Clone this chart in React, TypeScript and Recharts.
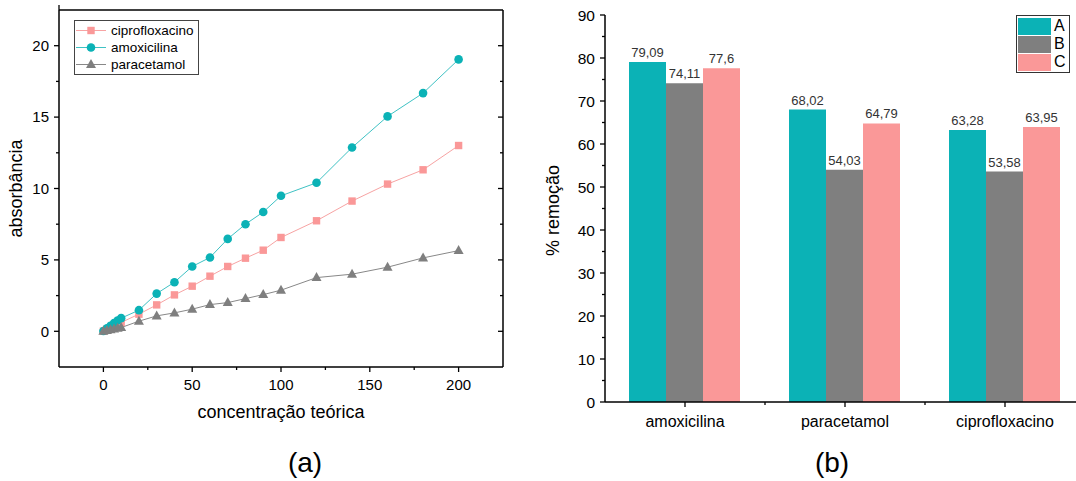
import React from 'react';
import { LineChart, Line, BarChart, Bar, XAxis, YAxis, Legend, Label, LabelList } from 'recharts';

// (a) absorbance vs theoretical concentration
const CONC = [0, 2, 4, 6, 8, 10, 20, 30, 40, 50, 60, 70, 80, 90, 100, 120, 140, 160, 180, 200];
const CIPRO_ABS = [0.01, 0.13, 0.25, 0.38, 0.49, 0.62, 1.2, 1.85, 2.55, 3.16, 3.86, 4.54, 5.12, 5.68, 6.57, 7.74, 9.12, 10.31, 11.31, 13.01];
const AMOX_ABS = [0.02, 0.21, 0.38, 0.57, 0.76, 0.92, 1.48, 2.64, 3.44, 4.54, 5.17, 6.47, 7.5, 8.35, 9.49, 10.4, 12.87, 15.05, 16.68, 19.04];
const PARA_ABS = [0, 0.06, 0.1, 0.16, 0.21, 0.26, 0.71, 1.08, 1.29, 1.55, 1.87, 2.01, 2.29, 2.57, 2.88, 3.76, 4.0, 4.49, 5.14, 5.65];
const CONC_TICKS = [0, 25, 50, 75, 100, 125, 150, 175, 200];
const ABS_TICKS = [0, 2.5, 5, 7.5, 10, 12.5, 15, 17.5, 20];

// (b) % removal per drug
const DRUGS = ['amoxicilina', 'paracetamol', 'ciprofloxacino'];
const REMOVAL_A = [79.09, 68.02, 63.28];
const REMOVAL_B = [74.11, 54.03, 53.58];
const REMOVAL_C = [77.6, 64.79, 63.95];
const REMOVAL_TICKS = [0, 5, 10, 15, 20, 25, 30, 35, 40, 45, 50, 55, 60, 65, 70, 75, 80, 85, 90];

const FONT = '"Liberation Sans", Arial, sans-serif';
const TEAL = '#0bb2b6';
const GRAY = '#7f7f7f';
const PINK = '#fa9898';

const lineData = CONC.map((c, i) => ({ conc: c, cipro: CIPRO_ABS[i], amox: AMOX_ABS[i], para: PARA_ABS[i] }));
const barData = DRUGS.map((d, i) => ({ name: d, A: REMOVAL_A[i], B: REMOVAL_B[i], C: REMOVAL_C[i] }));

const LINE_SERIES = [
  { key: 'cipro', name: 'ciprofloxacino', shape: 'square', marker: PINK, line: '#f7a3a3' },
  { key: 'amox', name: 'amoxicilina', shape: 'circle', marker: TEAL, line: '#3fc2c4' },
  { key: 'para', name: 'paracetamol', shape: 'triangle', marker: GRAY, line: '#888888' },
];
const BAR_SERIES = [
  { key: 'A', color: TEAL },
  { key: 'B', color: GRAY },
  { key: 'C', color: PINK },
];

const Marker = ({ shape, cx, cy, color }: any) => {
  if (cx == null || cy == null) return null;
  if (shape === 'square') return <rect x={cx - 3.7} y={cy - 3.7} width={7.4} height={7.4} fill={color} />;
  if (shape === 'triangle')
    return <polygon points={`${cx},${cy - 5.5} ${cx - 5},${cy + 3.5} ${cx + 5},${cy + 3.5}`} fill={color} />;
  return <circle cx={cx} cy={cy} r={4.3} fill={color} />;
};

const isMajor = (v: number, step: number) => Math.abs(v / step - Math.round(v / step)) < 1e-6;

// Origin style ticks: major/minor lengths, optional inward direction
const FrameTick = (props: any) => {
  const { x, y, payload, side, inward, showLabel, step, fontSize, gap } = props;
  const v = payload.value;
  const major = isMajor(v, step);
  const len = major ? 5 : 3;
  const d = inward ? 1 : -1;
  const ls = { stroke: '#000', strokeWidth: 1.3 };
  let line = null;
  let text = null;
  if (side === 'left') {
    line = <line x1={x} y1={y} x2={x + d * len} y2={y} {...ls} />;
    if (showLabel && major)
      text = <text x={x - gap} y={y} dy="0.355em" textAnchor="end" fontSize={fontSize} fontFamily={FONT} fill="#000">{v}</text>;
  } else if (side === 'right') {
    line = <line x1={x} y1={y} x2={x - d * len} y2={y} {...ls} />;
  } else if (side === 'top') {
    line = <line x1={x} y1={y} x2={x} y2={y - d * len} {...ls} />;
  } else {
    line = <line x1={x} y1={y} x2={x} y2={y - d * len} {...ls} />;
    if (showLabel && major)
      text = <text x={x} y={y + gap} dy="0.71em" textAnchor="middle" fontSize={fontSize} fontFamily={FONT} fill="#000">{v}</text>;
  }
  return <g>{line}{text}</g>;
};

const BAR_PLOT_W = 480;

const CategoryTick = (props: any) => {
  const { x, y, payload } = props;
  const half = BAR_PLOT_W / DRUGS.length / 2;
  return (
    <g>
      <line x1={x} y1={y} x2={x} y2={y + 5} stroke="#000" strokeWidth={1.3} />
      <line x1={x + half} y1={y} x2={x + half} y2={y + 3} stroke="#000" strokeWidth={1.3} />
      <text x={x} y={y + 14} dy="0.71em" textAnchor="middle" fontSize={16} fontFamily={FONT} fill="#000">{payload.value}</text>
    </g>
  );
};

const LineLegend = () => (
  <div style={{ border: '1px solid #444', background: '#fff', padding: '1px 4px 1px 1px', fontFamily: FONT, fontSize: 13.5, lineHeight: '17px', color: '#000' }}>
    {LINE_SERIES.map((s) => (
      <div key={s.key} style={{ display: 'flex', alignItems: 'center', height: 17 }}>
        <svg width={30} height={17} style={{ display: 'block' }}>
          <line x1={0} x2={30} y1={8.5} y2={8.5} stroke={s.line} strokeWidth={1} />
          <Marker shape={s.shape} cx={15} cy={8.5} color={s.marker} />
        </svg>
        <span style={{ marginLeft: 5 }}>{s.name}</span>
      </div>
    ))}
  </div>
);

const BarLegend = () => (
  <div style={{ border: '1px solid #333', background: '#fff', padding: '1px 3px 1px 1px', fontFamily: FONT, fontSize: 16, color: '#000' }}>
    {BAR_SERIES.map((s) => (
      <div key={s.key} style={{ display: 'flex', alignItems: 'center', height: 18 }}>
        <div style={{ width: 33, height: 17, background: s.color }} />
        <span style={{ marginLeft: 3, lineHeight: '18px' }}>{s.key}</span>
      </div>
    ))}
  </div>
);

const axisLine = { stroke: '#000', strokeWidth: 1.5 };

const App = () => (
  <div style={{ position: 'absolute', left: 0, top: 0, width: 1076, height: 481, overflow: 'hidden', background: '#fff' }}>
    <div style={{ position: 'absolute', left: 0, top: 0 }}>
      <LineChart width={520} height={440} data={lineData} margin={{ top: 9, right: 16, left: 14, bottom: 43 }}>
        <XAxis
          dataKey="conc"
          type="number"
          domain={[-25, 225]}
          ticks={CONC_TICKS}
          allowDataOverflow
          interval={0}
          height={30}
          tickSize={0}
          tickMargin={0}
          tickLine={false}
          axisLine={axisLine}
          tick={(p: any) => <FrameTick {...p} side="bottom" inward={false} showLabel step={50} fontSize={15} gap={12} />}
        >
          <Label
            content={(p: any) => {
              const vb = p.viewBox;
              return (
                <text x={vb.x + vb.width / 2} y={vb.y + 51} textAnchor="middle" fontSize={18} fontFamily={FONT} fill="#000">
                  concentração teórica
                </text>
              );
            }}
          />
        </XAxis>
        <XAxis
          xAxisId="top"
          orientation="top"
          type="number"
          domain={[-25, 225]}
          ticks={CONC_TICKS}
          allowDataOverflow
          interval={0}
          height={1}
          tickSize={0}
          tickMargin={0}
          tickLine={false}
          axisLine={axisLine}
          tick={(p: any) => <FrameTick {...p} side="top" inward showLabel={false} step={50} fontSize={15} gap={0} />}
        />
        <YAxis
          type="number"
          domain={[-2.5, 22.5]}
          ticks={ABS_TICKS}
          allowDataOverflow
          interval={0}
          width={45}
          tickSize={0}
          tickMargin={0}
          tickLine={false}
          axisLine={axisLine}
          tick={(p: any) => <FrameTick {...p} side="left" inward={false} showLabel step={5} fontSize={15} gap={10} />}
        >
          <Label
            content={(p: any) => {
              const vb = p.viewBox;
              const cx = vb.x + 2;
              const cy = vb.y + vb.height / 2;
              return (
                <text x={cx} y={cy} transform={`rotate(-90, ${cx}, ${cy})`} textAnchor="middle" dy="0.35em" fontSize={18} fontFamily={FONT} fill="#000">
                  absorbância
                </text>
              );
            }}
          />
        </YAxis>
        <YAxis
          yAxisId="right"
          orientation="right"
          type="number"
          domain={[-2.5, 22.5]}
          ticks={ABS_TICKS}
          allowDataOverflow
          interval={0}
          width={1}
          tickSize={0}
          tickMargin={0}
          tickLine={false}
          axisLine={axisLine}
          tick={(p: any) => <FrameTick {...p} side="right" inward showLabel={false} step={5} fontSize={15} gap={0} />}
        />
        {LINE_SERIES.map((s) => (
          <Line
            key={s.key}
            type="linear"
            dataKey={s.key}
            name={s.name}
            stroke={s.line}
            strokeWidth={1}
            isAnimationActive={false}
            dot={(p: any) => <Marker key={`${s.key}-${p.index}`} shape={s.shape} cx={p.cx} cy={p.cy} color={s.marker} />}
            activeDot={false}
          />
        ))}
        <Legend layout="vertical" align="center" verticalAlign="middle" wrapperStyle={{ left: 74, top: 20 }} content={() => <LineLegend />} />
      </LineChart>
    </div>

    <div style={{ position: 'absolute', left: 530, top: 0 }}>
      <BarChart width={560} height={481} data={barData} margin={{ top: 15, right: 5, left: 15, bottom: 49 }} barCategoryGap="15%" barGap={0}>
        <XAxis dataKey="name" interval={0} height={30} tickSize={0} tickMargin={0} tickLine={false} axisLine={axisLine} tick={(p: any) => <CategoryTick {...p} />} />
        <YAxis
          type="number"
          domain={[0, 90]}
          ticks={REMOVAL_TICKS}
          allowDataOverflow
          interval={0}
          width={60}
          tickSize={0}
          tickMargin={0}
          tickLine={false}
          axisLine={axisLine}
          tick={(p: any) => <FrameTick {...p} side="left" inward={false} showLabel step={10} fontSize={15.5} gap={10} />}
        >
          <Label
            content={(p: any) => {
              const vb = p.viewBox;
              const cx = vb.x + vb.width - 52;
              const cy = vb.y + vb.height / 2 + 2;
              return (
                <text x={cx} y={cy} transform={`rotate(-90, ${cx}, ${cy})`} textAnchor="middle" dy="0.35em" fontSize={18} fontFamily={FONT} fill="#000">
                  % remoção
                </text>
              );
            }}
          />
        </YAxis>
        {BAR_SERIES.map((s) => (
          <Bar key={s.key} dataKey={s.key} fill={s.color} isAnimationActive={false}>
            <LabelList
              dataKey={s.key}
              position="top"
              offset={5}
              formatter={(v: any) => String(v).replace('.', ',')}
              style={{ fontSize: 13, fontFamily: FONT, fill: '#333' }}
            />
          </Bar>
        ))}
        <Legend layout="vertical" align="center" verticalAlign="middle" wrapperStyle={{ left: 486, top: 15 }} content={() => <BarLegend />} />
      </BarChart>
    </div>

    <div style={{ position: 'absolute', left: 285, top: 446, fontFamily: FONT, fontSize: 28, lineHeight: '34px', width: 40, textAlign: 'center' }}>(a)</div>
    <div style={{ position: 'absolute', left: 812, top: 446, fontFamily: FONT, fontSize: 28, lineHeight: '34px', width: 40, textAlign: 'center' }}>(b)</div>
  </div>
);

export default App;
